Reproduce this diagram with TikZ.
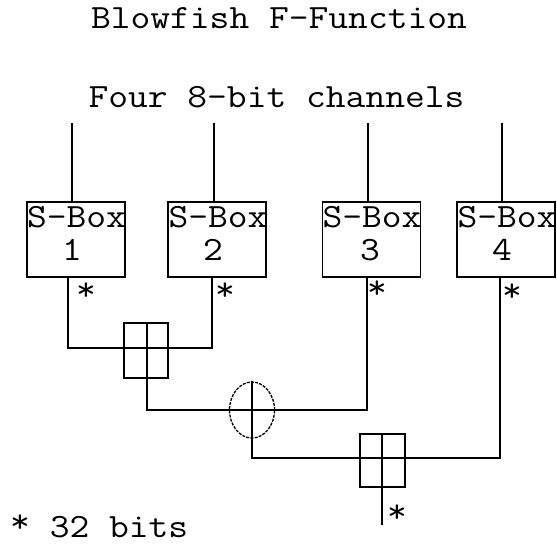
\documentclass[tikz,border=0pt]{standalone}
\usepackage{fontspec}
\newfontfamily\courfont{Latin Modern Mono}[FakeStretch=1.13]
\usetikzlibrary{shapes.geometric}
\tikzset{
  txt/.style={font=\courfont\fontsize{34}{34}\selectfont, inner sep=0pt, anchor=base},
  sbox/.style={draw, line width=1.6pt, minimum width=98pt, minimum height=75pt, inner sep=0pt},
  addbox/.style={draw, line width=1.6pt, minimum width=44pt, minimum height=55pt, inner sep=0pt},
  xorell/.style={draw, ellipse, line width=1.3pt, dash pattern=on 3pt off 1.2pt, minimum width=45pt, minimum height=56pt, inner sep=0pt},
  wire/.style={line width=1.6pt},
}
\newcommand{\upstar}{\raisebox{5pt}{*}}
\begin{document}
\begin{tikzpicture}[x=1pt,y=-1pt]
\useasboundingbox[fill=white] (0,0) rectangle (557,546);

% titles
\node[txt] (title) at (279,28) {Blowfish F-Function};
\node[txt] (chan) at (276.5,107) {Four 8-bit channels};

% input line tops
\coordinate (in1) at (72,123);
\coordinate (in2) at (214,123);
\coordinate (in3) at (368,123);
\coordinate (in4) at (502,123);

% S-boxes
\node[sbox] (sb1) at (76,239.5) {};
\node[sbox] (sb2) at (217,239.5) {};
\node[sbox] (sb3) at (371.5,239.5) {};
\node[sbox] (sb4) at (506,239.5) {};

\node[txt] (t1) at (76.5,227) {S-Box};
\node[txt] (t2) at (218,227) {S-Box};
\node[txt] (t3) at (372,227) {S-Box};
\node[txt] (t4) at (507,227) {S-Box};
\node[txt] (n1) at (72,260) {1};
\node[txt] (n2) at (213,260) {2};
\node[txt] (n3) at (370,260) {3};
\node[txt] (n4) at (502,260) {4};

% combiners
\node[addbox] (add1) at (146,350.5) {};
\node[xorell] (xor) at (252,410) {};
\node[addbox, minimum width=45pt, minimum height=53pt] (add2) at (382.5,460.5) {};

% output coordinates
\coordinate (o1) at (68,277);
\coordinate (o2) at (212,277);
\coordinate (o3) at (367,277);
\coordinate (o4) at (500,277);
\coordinate (out) at (382,525);

% input wires
\draw[wire] (in1) -- (in1 |- sb1.north);
\draw[wire] (in2) -- (in2 |- sb2.north);
\draw[wire] (in3) -- (in3 |- sb3.north);
\draw[wire] (in4) -- (in4 |- sb4.north);

% S1 + S2
\draw[wire] (o1) -- (68,348) -- (212,348) -- (o2);
% (S1+S2) xor S3
\draw[wire] (add1.north -| 147,0) -- (147,410) -- (367,410) -- (o3);
% xor result + S4
\draw[wire] (xor.north) -- (252,458) -- (500,458) -- (o4);
% output
\draw[wire] (add2.north -| out) -- (out);

% 32-bit markers
\node[txt] (s1) at (86,300) {*};
\node[txt] (s2) at (225,300) {*};
\node[txt] (s3) at (377,298) {*};
\node[txt] (s4) at (512,301) {*};
\node[txt] (s5) at (397,522) {*};

\node[txt, anchor=base west] (legend) at (10,537) {\upstar{} 32 bits};
\end{tikzpicture}
\end{document}
